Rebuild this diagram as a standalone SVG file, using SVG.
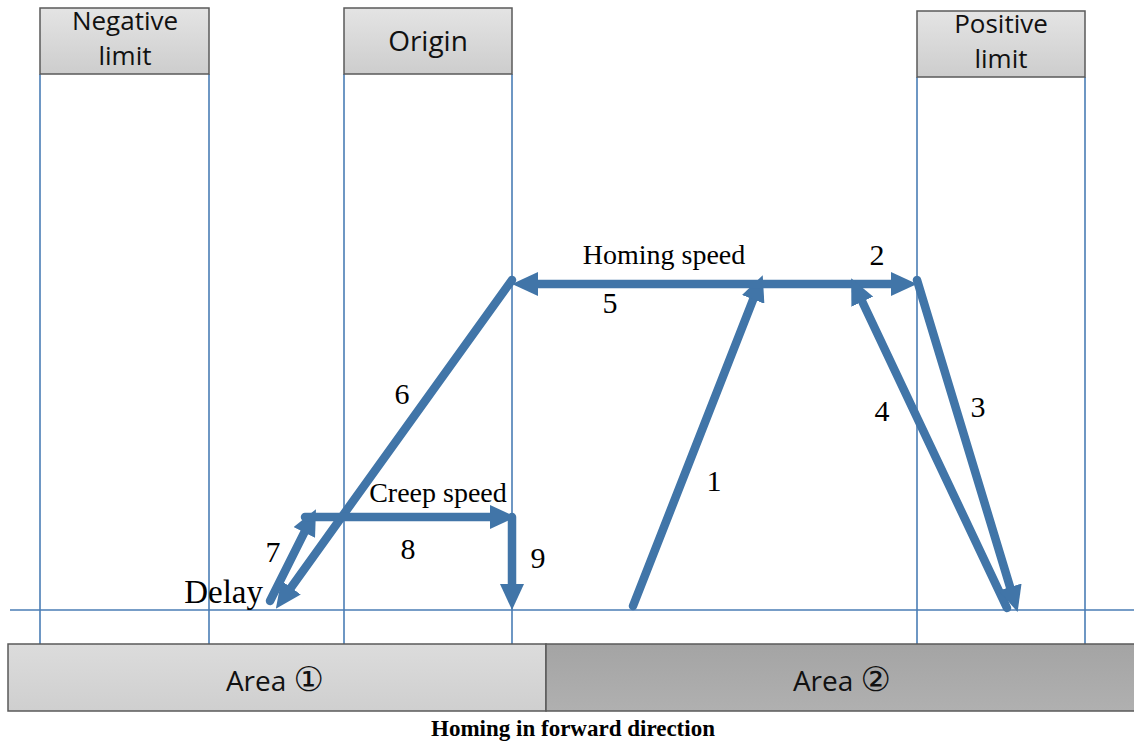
<svg xmlns="http://www.w3.org/2000/svg" width="1134" height="744" viewBox="0 0 1134 744">
<defs>
<linearGradient id="gBox" x1="0" y1="0" x2="0" y2="1"><stop offset="0" stop-color="#e4e4e4"/><stop offset="1" stop-color="#cdcdcd"/></linearGradient>
<linearGradient id="gA1" x1="0" y1="0" x2="0" y2="1"><stop offset="0" stop-color="#dcdcdc"/><stop offset="1" stop-color="#cfcfcf"/></linearGradient>
<linearGradient id="gA2" x1="0" y1="0" x2="0" y2="1"><stop offset="0" stop-color="#a4a4a4"/><stop offset="1" stop-color="#b0b0b0"/></linearGradient>
<marker id="ah" markerUnits="userSpaceOnUse" markerWidth="26" markerHeight="24" refX="6" refY="12" orient="auto-start-reverse"><path d="M0,0 L26,12 L0,24 z" fill="#4175a8"/></marker>
</defs>
<style>
.box{stroke:#5a5a5a;stroke-width:1.5;fill:url(#gBox)}
.lbl{font-family:"Open Sans","Noto Sans",sans-serif;font-size:28px;fill:#111;text-anchor:middle}
.two{font-size:26px}
.thin{stroke:#4a7db5;stroke-width:1.6;fill:none}
.arr{stroke:#4175a8;stroke-width:8.5;fill:none;stroke-linecap:round;stroke-linejoin:round;marker-end:url(#ah)}
.t{font-family:"Liberation Serif",serif;font-size:28px;fill:#000;text-anchor:middle}
.d{font-size:30px}
</style>
<g id="guides">
<line class="thin" x1="40" y1="74" x2="40" y2="644"/>
<line class="thin" x1="209" y1="74" x2="209" y2="644"/>
<line class="thin" x1="344" y1="74" x2="344" y2="644"/>
<line class="thin" x1="512" y1="74" x2="512" y2="644"/>
<line class="thin" x1="917" y1="77" x2="917" y2="644"/>
<line class="thin" x1="1085" y1="77" x2="1085" y2="644"/>
<line class="thin" x1="10" y1="610" x2="1134" y2="610"/>
</g>
<g id="negative-limit">
<rect class="box" x="40" y="8" width="169" height="66"/>
<text class="lbl two" x="125" y="30">Negative</text>
<text class="lbl two" x="125" y="65">limit</text>
</g>
<g id="origin">
<rect class="box" x="344" y="8" width="168" height="66"/>
<text class="lbl" x="428" y="51">Origin</text>
</g>
<g id="positive-limit">
<rect class="box" x="917" y="11" width="168" height="66"/>
<text class="lbl two" x="1001" y="33">Positive</text>
<text class="lbl two" x="1001" y="68">limit</text>
</g>
<g id="area1">
<rect x="8" y="644" width="538" height="67" fill="url(#gA1)" stroke="#5a5a5a" stroke-width="1.5"/>
<text class="lbl" x="275" y="691">Area <tspan style="font-family:'DejaVu Sans',sans-serif;font-size:34px">①</tspan></text>
</g>
<g id="area2">
<rect x="546" y="644" width="590" height="67" fill="url(#gA2)" stroke="#5a5a5a" stroke-width="1.5"/>
<text class="lbl" x="842" y="691">Area <tspan style="font-family:'DejaVu Sans',sans-serif;font-size:34px">②</tspan></text>
</g>
<g id="connectors">
<path class="arr" d="M633,606 L755.4,293.8"/>
<path class="arr" style="marker-start:url(#ah)" d="M532,284 L897,284"/>
<path class="arr" d="M1007,608 L859.7,296.3"/>
<path class="arr" d="M917,280 L1011.8,592.8"/>
<path class="arr" d="M512,280 L287.5,592.4"/>
<path class="arr" d="M270,601 L307,527.1"/>
<path class="arr" d="M305,517 L496,517"/>
<path class="arr" d="M512,517 L512,590"/>
</g>
<g id="labels">
<text class="t" x="664" y="264">Homing speed</text>
<text class="t d" x="877" y="265">2</text>
<text class="t d" x="610" y="313">5</text>
<text class="t d" x="402" y="404">6</text>
<text class="t d" x="882" y="421">4</text>
<text class="t d" x="978" y="417">3</text>
<text class="t d" x="714" y="491">1</text>
<text class="t" x="438" y="502">Creep speed</text>
<text class="t d" x="408" y="559">8</text>
<text class="t d" x="273" y="562">7</text>
<text class="t d" x="538" y="568">9</text>
<text class="t" x="263" y="603" style="font-size:33px;text-anchor:end">Delay</text>
</g>
<text x="573" y="736" style="text-anchor:middle;font-family:'Liberation Serif',serif;font-weight:bold;font-size:23px">Homing in forward direction</text>
</svg>
